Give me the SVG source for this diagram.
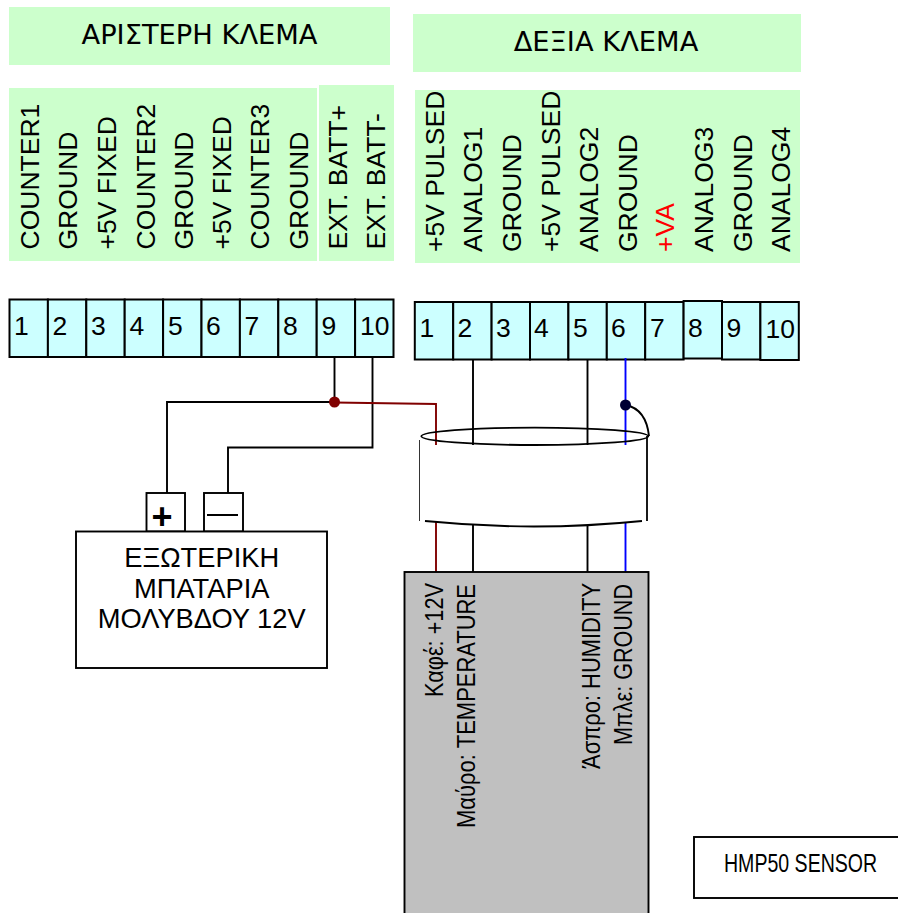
<svg xmlns="http://www.w3.org/2000/svg" width="898" height="913" viewBox="0 0 898 913">
<style>
text{font-family:"Liberation Sans",Arial,sans-serif;fill:#000}
.lab{fill:#ccffcc}
.t{fill:#ccffff;stroke:#000;stroke-width:2}
.n{font-size:26.500px}
.v{font-size:26.500px}
.s{font-size:26px}
.title{font-family:"DejaVu Sans",sans-serif;font-size:27.300px;text-anchor:middle}
.bt{font-size:27.300px;text-anchor:middle}
.w{fill:none;stroke:#000;stroke-width:1.900}
.r{fill:none;stroke:#800000;stroke-width:1.900}
.b{fill:none;stroke:#0000ff;stroke-width:1.900}
.box{fill:#fff;stroke:#000;stroke-width:1.900}
</style>
<g id="labels">
<rect class="lab" x="9" y="7" width="381" height="58"/>
<text class="title" x="199.500" y="43.500">ΑΡΙΣΤΕΡΗ ΚΛΕΜΑ</text>
<rect class="lab" x="413" y="14" width="388" height="58"/>
<text class="title" x="606" y="51">ΔΕΞΙΑ ΚΛΕΜΑ</text>
<rect class="lab" x="9" y="88" width="308" height="173"/>
<rect class="lab" x="319" y="85" width="75" height="176"/>
<rect class="lab" x="415" y="90" width="385" height="173"/>
<g class="v">
<text transform="translate(39,249.500) rotate(-90)">COUNTER1</text>
<text transform="translate(77.300,249.500) rotate(-90)">GROUND</text>
<text transform="translate(115.700,249.500) rotate(-90)">+5V FIXED</text>
<text transform="translate(155,249.500) rotate(-90)">COUNTER2</text>
<text transform="translate(193.300,249.500) rotate(-90)">GROUND</text>
<text transform="translate(231,249.500) rotate(-90)">+5V FIXED</text>
<text transform="translate(269.300,249.500) rotate(-90)">COUNTER3</text>
<text transform="translate(308,249.500) rotate(-90)">GROUND</text>
<text transform="translate(347.300,249.500) rotate(-90)">EXT. BATT+</text>
<text transform="translate(385,249.500) rotate(-90)">EXT. BATT-</text>
<text transform="translate(444.300,252) rotate(-90)">+5V PULSED</text>
<text transform="translate(482,252) rotate(-90)">ANALOG1</text>
<text transform="translate(521,252) rotate(-90)">GROUND</text>
<text transform="translate(560,252) rotate(-90)">+5V PULSED</text>
<text transform="translate(598,252) rotate(-90)">ANALOG2</text>
<text transform="translate(636.700,252) rotate(-90)">GROUND</text>
<text transform="translate(674,252) rotate(-90)" style="fill:#ff0000">+VA</text>
<text transform="translate(712.700,252) rotate(-90)">ANALOG3</text>
<text transform="translate(752,252) rotate(-90)">GROUND</text>
<text transform="translate(790,252) rotate(-90)">ANALOG4</text>
</g>
</g>
<g id="left-terminals">
<rect class="t" x="9.500" y="299.500" width="38.400" height="57.500"/>
<rect class="t" x="47.900" y="299.500" width="38.400" height="57.500"/>
<rect class="t" x="86.300" y="299.500" width="38.400" height="57.500"/>
<rect class="t" x="124.700" y="299.500" width="38.400" height="57.500"/>
<rect class="t" x="163.100" y="299.500" width="38.400" height="57.500"/>
<rect class="t" x="201.500" y="299.500" width="38.400" height="57.500"/>
<rect class="t" x="239.900" y="299.500" width="38.400" height="57.500"/>
<rect class="t" x="278.300" y="299.500" width="38.400" height="57.500"/>
<rect class="t" x="316.700" y="299.500" width="38.400" height="57.500"/>
<rect class="t" x="355.100" y="299.500" width="38.400" height="57.500"/>
<g class="n">
<text x="14" y="335">1</text><text x="52.500" y="335">2</text><text x="91" y="335">3</text><text x="129.500" y="335">4</text><text x="168" y="335">5</text><text x="206" y="335">6</text><text x="244.500" y="335">7</text><text x="283" y="335">8</text><text x="321.500" y="335">9</text><text x="360" y="335">10</text>
</g>
</g>
<g id="right-terminals">
<rect class="t" x="414.800" y="302" width="38.400" height="57.500"/>
<rect class="t" x="453.200" y="302" width="38.400" height="57.500"/>
<rect class="t" x="491.600" y="302" width="38.400" height="57.500"/>
<rect class="t" x="530" y="302" width="38.400" height="57.500"/>
<rect class="t" x="568.400" y="302" width="38.400" height="57.500"/>
<rect class="t" x="606.800" y="302" width="38.400" height="57.500"/>
<rect class="t" x="645.200" y="302" width="38.400" height="57.500"/>
<rect class="t" x="683.600" y="301" width="38.400" height="57.500"/>
<rect class="t" x="722" y="302" width="38.400" height="57.500"/>
<rect class="t" x="760.400" y="302" width="38.400" height="58"/>
<g class="n">
<text x="419.500" y="337">1</text><text x="457.500" y="337">2</text><text x="496" y="337">3</text><text x="534" y="337">4</text><text x="573" y="337">5</text><text x="611" y="337">6</text><text x="650" y="337">7</text><text x="688" y="336.500">8</text><text x="726.500" y="337">9</text><text x="765.500" y="338">10</text>
</g>
</g>
<g id="connectors">
<path class="w" d="M334.500 357V402H167V493"/>
<path class="w" d="M372.500 357V447.500H228V493"/>
<path class="r" d="M334.500 402.500L436 404V445"/>
<path class="w" d="M473 360V445"/>
<path class="w" d="M587.500 360V445"/>
<path class="b" d="M625.500 358V445"/>
<path class="r" d="M436 522V572"/>
<path class="w" d="M473 525V572"/>
<path class="w" d="M587.500 525V572"/>
<path class="b" d="M625.500 522V572"/>
<path class="w" d="M626 405C640 408 647 418 649 436"/>
<circle cx="334.500" cy="402" r="5.500" fill="#800000"/>
<circle cx="625.500" cy="405" r="5.500" fill="#000033"/>
</g>
<g id="cable">
<ellipse cx="534.800" cy="436.300" rx="113.500" ry="8.700" fill="none" stroke="#000" stroke-width="1.800"/>
<path d="M419.500 440V521" fill="none" stroke="#000" stroke-width="0.8"/>
<path d="M647 436V521" fill="none" stroke="#000" stroke-width="1.800"/>
<path d="M425 521Q534 532 642 521" fill="none" stroke="#000" stroke-width="1.800"/>
</g>
<g id="battery">
<rect class="box" x="146.500" y="493" width="38.500" height="38.500"/>
<rect class="box" x="204" y="493" width="39" height="38.500"/>
<text x="162" y="529" text-anchor="middle" style="font-size:36px;font-weight:bold">+</text>
<path d="M207 515H238" stroke="#000" stroke-width="2" fill="none"/>
<rect class="box" x="76" y="531.500" width="251" height="136.500"/>
<text class="bt" x="201.700" y="566.700">ΕΞΩΤΕΡΙΚΗ</text>
<text class="bt" x="201.700" y="597.700">ΜΠΑΤΑΡΙΑ</text>
<text class="bt" x="201.700" y="628.300">ΜΟΛΥΒΔΟΥ 12V</text>
</g>
<g id="sensor">
<rect x="404.500" y="572" width="244" height="345" fill="#c0c0c0" stroke="#000" stroke-width="1.900"/>
<g class="s">
<text transform="translate(443.300,697) rotate(-90)" textLength="114" lengthAdjust="spacingAndGlyphs">Καφέ: +12V</text>
<text transform="translate(474.700,828) rotate(-90)" textLength="244" lengthAdjust="spacingAndGlyphs">Μαύρο: TEMPERATURE</text>
<text transform="translate(599.700,769) rotate(-90)" textLength="186" lengthAdjust="spacingAndGlyphs">Άσπρο: HUMIDITY</text>
<text transform="translate(631.700,745) rotate(-90)" textLength="161" lengthAdjust="spacingAndGlyphs">Μπλε: GROUND</text>
</g>
</g>
<g id="hmp50">
<rect class="box" x="694" y="837" width="206" height="61"/>
<text transform="translate(724,871.700) scale(0.782,1)" style="font-size:25px">HMP50 SENSOR</text>
</g>
</svg>
